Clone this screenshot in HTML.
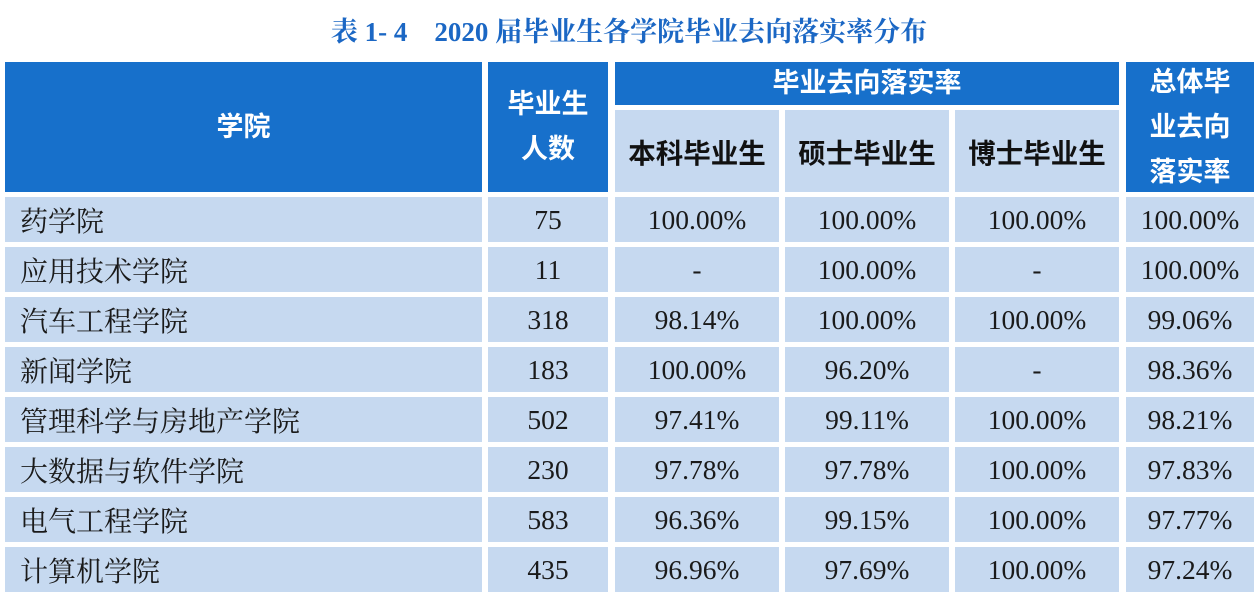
<!DOCTYPE html>
<html><head><meta charset="utf-8"><style>
body{margin:0;width:1258px;height:594px;background:#fff;position:relative;overflow:hidden;font-family:"Liberation Serif","Noto Serif CJK SC",serif;}
.c{position:absolute;display:flex;align-items:center;justify-content:center;box-sizing:border-box;}
.h{background:#1770cb;color:#fff;font-family:"Liberation Sans","Noto Sans CJK SC",sans-serif;font-weight:bold;font-size:27px;line-height:45px;text-align:center;}
.s{background:#c6d9f0;color:#111;font-family:"Liberation Sans","Noto Sans CJK SC",sans-serif;font-weight:bold;font-size:27.5px;}
.r{background:#c6d9f0;color:#1a1a1a;font-size:27.5px;}
.l{justify-content:flex-start;padding-left:15px;font-size:28px;font-family:"Liberation Serif","Noto Serif CJK SC",serif;}
#title{position:absolute;left:0;width:1258px;top:10px;text-align:center;color:#1b67c4;font-weight:bold;font-size:27px;font-family:"Liberation Serif","Noto Serif CJK SC",serif;}
</style></head><body>
<div id="title">表 1- 4&nbsp;&nbsp;&nbsp; 2020 届毕业生各学院毕业去向落实率分布</div>
<div class="c h" style="left:5px;top:62px;width:477px;height:130px">学院</div>
<div class="c h" style="left:488px;top:62px;width:120px;height:130px">毕业生<br>人数</div>
<div class="c h" style="left:615px;top:62px;width:504px;height:43px">毕业去向落实率</div>
<div class="c s" style="left:615px;top:110px;width:164px;height:82px">本科毕业生</div>
<div class="c s" style="left:785px;top:110px;width:164px;height:82px">硕士毕业生</div>
<div class="c s" style="left:955px;top:110px;width:164px;height:82px">博士毕业生</div>
<div class="c h" style="left:1126px;top:62px;width:128px;height:130px">总体毕<br>业去向<br>落实率</div>
<script>
const colleges=["药学院","应用技术学院","汽车工程学院","新闻学院","管理科学与房地产学院","大数据与软件学院","电气工程学院","计算机学院"];
const counts=["75","11","318","183","502","230","583","435"];
const bachelor=["100.00%","-","98.14%","100.00%","97.41%","97.78%","96.36%","96.96%"];
const master=["100.00%","100.00%","100.00%","96.20%","99.11%","97.78%","99.15%","97.69%"];
const doctor=["100.00%","-","100.00%","-","100.00%","100.00%","100.00%","100.00%"];
const overall=["100.00%","100.00%","99.06%","98.36%","98.21%","97.83%","97.77%","97.24%"];
const cols=[[5,477,colleges,'college'],[488,120,counts,'count'],[615,164,bachelor,'bachelor'],[785,164,master,'master'],[955,164,doctor,'doctor'],[1126,128,overall,'overall']];
const host=document.body;
colleges.forEach((_,i)=>{
  cols.forEach(([x,w,arr,nm],j)=>{
    const d=document.createElement('div');
    d.className='c r'+(j===0?' l':'');
    d.style.left=x+'px';d.style.top=(197+50*i)+'px';d.style.width=w+'px';d.style.height='45px';
    d.textContent=arr[i];
    
    
    host.appendChild(d);
  });
});
</script>
</body></html>
